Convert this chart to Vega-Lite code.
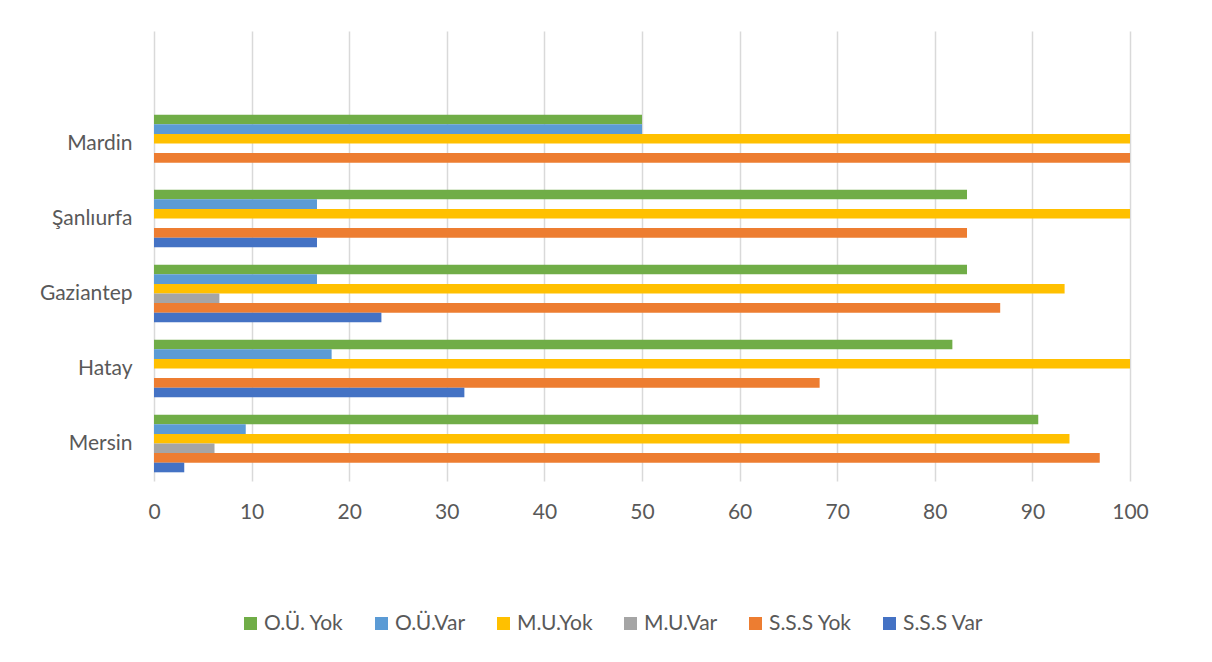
{
  "$schema": "https://vega.github.io/schema/vega-lite/v6.json",
  "width": 976,
  "height": 450,
  "autosize": {"type": "none"},
  "padding": {"left": 154, "top": 31, "right": 82, "bottom": 181},
  "background": "white",
  "data": {
    "values": [
      {"il": "Mardin", "seri": "O.Ü. Yok", "deger": 50},
      {"il": "Mardin", "seri": "O.Ü.Var", "deger": 50},
      {"il": "Mardin", "seri": "M.U.Yok", "deger": 100},
      {"il": "Mardin", "seri": "M.U.Var", "deger": 0},
      {"il": "Mardin", "seri": "S.S.S Yok", "deger": 100},
      {"il": "Mardin", "seri": "S.S.S Var", "deger": 0},
      {"il": "Şanlıurfa", "seri": "O.Ü. Yok", "deger": 83.3},
      {"il": "Şanlıurfa", "seri": "O.Ü.Var", "deger": 16.7},
      {"il": "Şanlıurfa", "seri": "M.U.Yok", "deger": 100},
      {"il": "Şanlıurfa", "seri": "M.U.Var", "deger": 0},
      {"il": "Şanlıurfa", "seri": "S.S.S Yok", "deger": 83.3},
      {"il": "Şanlıurfa", "seri": "S.S.S Var", "deger": 16.7},
      {"il": "Gaziantep", "seri": "O.Ü. Yok", "deger": 83.3},
      {"il": "Gaziantep", "seri": "O.Ü.Var", "deger": 16.7},
      {"il": "Gaziantep", "seri": "M.U.Yok", "deger": 93.3},
      {"il": "Gaziantep", "seri": "M.U.Var", "deger": 6.7},
      {"il": "Gaziantep", "seri": "S.S.S Yok", "deger": 86.7},
      {"il": "Gaziantep", "seri": "S.S.S Var", "deger": 23.3},
      {"il": "Hatay", "seri": "O.Ü. Yok", "deger": 81.8},
      {"il": "Hatay", "seri": "O.Ü.Var", "deger": 18.2},
      {"il": "Hatay", "seri": "M.U.Yok", "deger": 100},
      {"il": "Hatay", "seri": "M.U.Var", "deger": 0},
      {"il": "Hatay", "seri": "S.S.S Yok", "deger": 68.2},
      {"il": "Hatay", "seri": "S.S.S Var", "deger": 31.8},
      {"il": "Mersin", "seri": "O.Ü. Yok", "deger": 90.6},
      {"il": "Mersin", "seri": "O.Ü.Var", "deger": 9.4},
      {"il": "Mersin", "seri": "M.U.Yok", "deger": 93.8},
      {"il": "Mersin", "seri": "M.U.Var", "deger": 6.2},
      {"il": "Mersin", "seri": "S.S.S Yok", "deger": 96.9},
      {"il": "Mersin", "seri": "S.S.S Var", "deger": 3.1}
    ]
  },
  "mark": {"type": "bar"},
  "encoding": {
    "y": {
      "field": "il",
      "type": "nominal",
      "title": null,
      "scale": {
        "domain": [" ", "Mardin", "Şanlıurfa", "Gaziantep", "Hatay", "Mersin"],
        "paddingInner": 0.232,
        "paddingOuter": 0.116
      },
      "axis": {
        "ticks": false,
        "domain": false,
        "labelFont": "Lato",
        "labelFontSize": 21,
        "labelColor": "#595959",
        "labelPadding": 22
      }
    },
    "yOffset": {
      "field": "seri",
      "type": "nominal",
      "scale": {
        "domain": ["O.Ü. Yok", "O.Ü.Var", "M.U.Yok", "M.U.Var", "S.S.S Yok", "S.S.S Var"],
        "paddingInner": 0,
        "paddingOuter": 0
      }
    },
    "x": {
      "field": "deger",
      "type": "quantitative",
      "title": null,
      "scale": {"domain": [0, 100], "nice": false},
      "axis": {
        "values": [0, 10, 20, 30, 40, 50, 60, 70, 80, 90, 100],
        "ticks": false,
        "domain": false,
        "grid": true,
        "gridColor": "#D9D9D9",
        "gridWidth": 1.5,
        "labelFont": "Lato",
        "labelFontSize": 21,
        "labelColor": "#595959",
        "labelPadding": 20,
        "labelFlush": false
      }
    },
    "color": {
      "field": "seri",
      "type": "nominal",
      "title": null,
      "scale": {
        "domain": ["O.Ü. Yok", "O.Ü.Var", "M.U.Yok", "M.U.Var", "S.S.S Yok", "S.S.S Var"],
        "range": ["#70AD47", "#5B9BD5", "#FFC000", "#A5A5A5", "#ED7D31", "#4472C4"]
      },
      "legend": {
        "orient": "none",
        "legendX": 86,
        "legendY": 582,
        "direction": "horizontal",
        "columns": 6,
        "gridAlign": "none",
        "symbolType": "square",
        "symbolSize": 170,
        "symbolStrokeWidth": 0,
        "labelFont": "Lato",
        "labelFontSize": 21,
        "labelColor": "#595959",
        "labelOffset": 3,
        "columnPadding": 27
      }
    }
  },
  "config": {
    "view": {"stroke": null},
    "bar": {"stroke": null}
  }
}
